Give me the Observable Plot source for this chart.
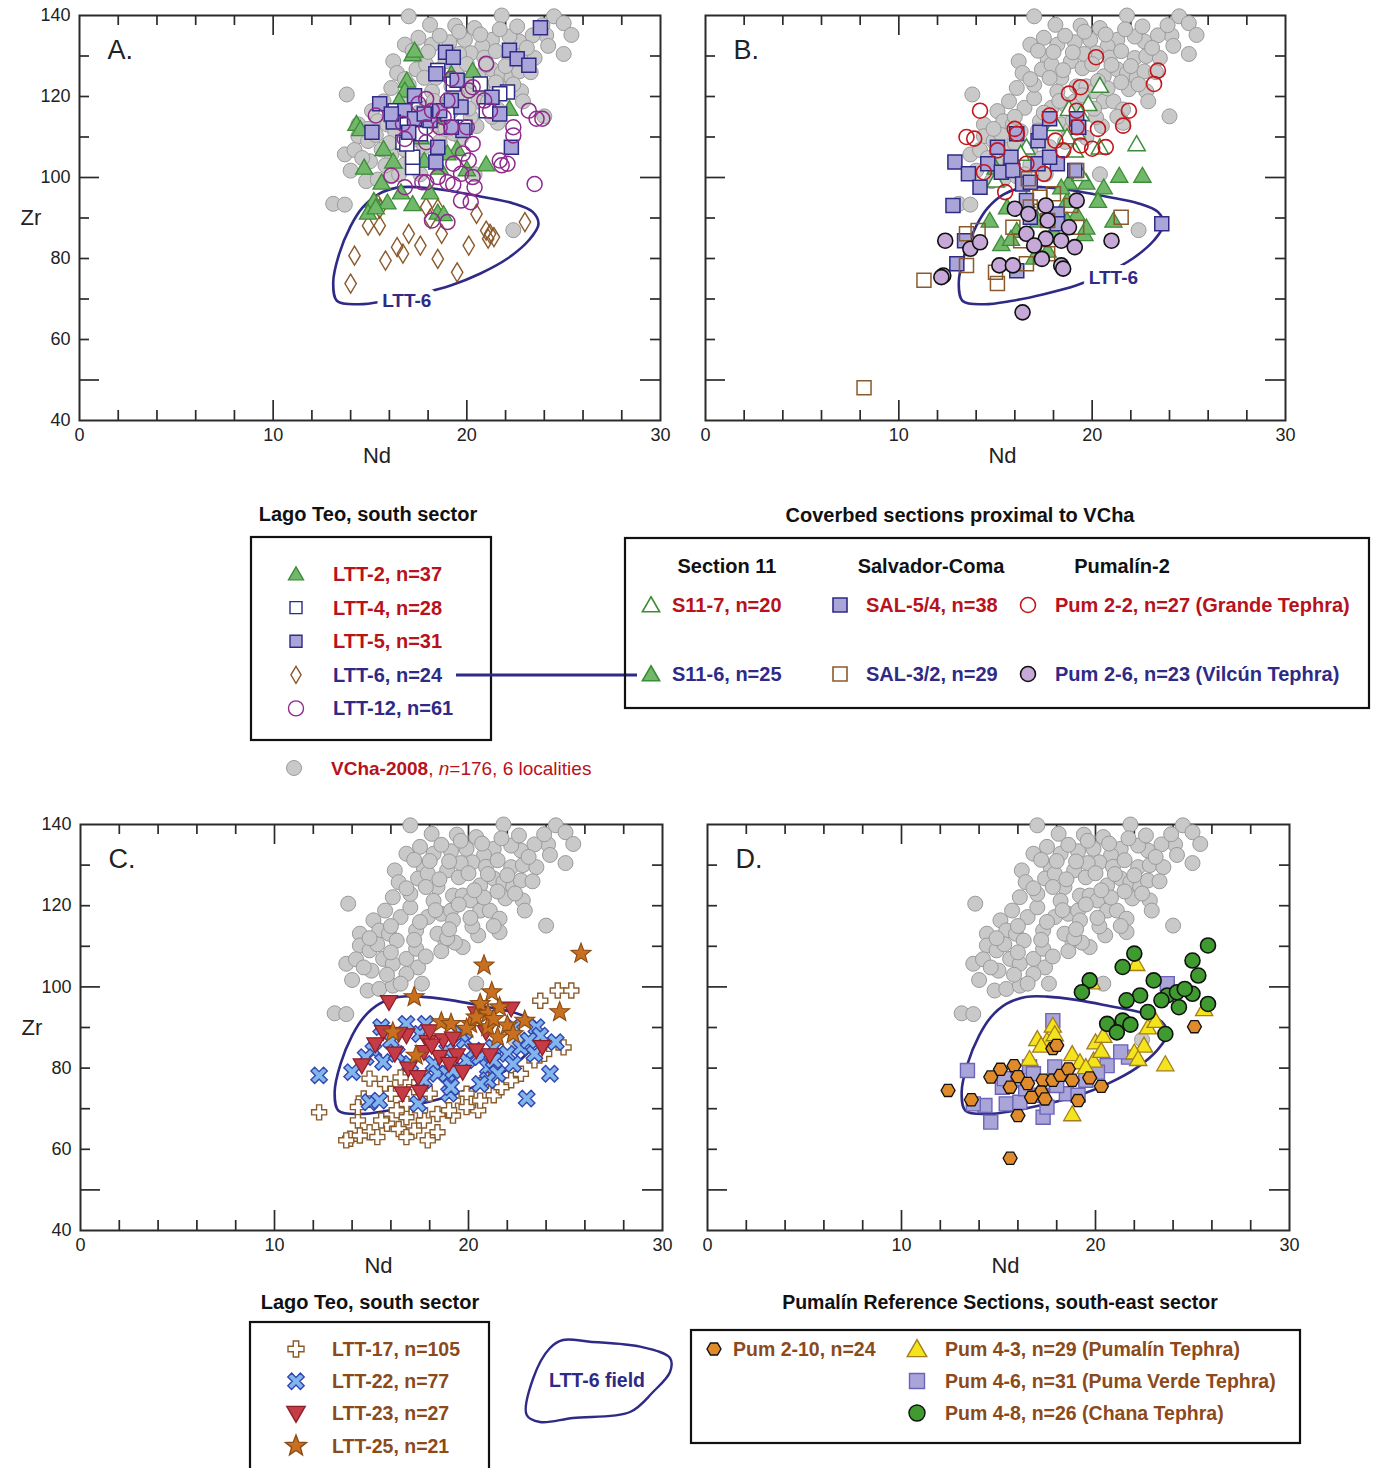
<!DOCTYPE html>
<html>
<head>
<meta charset="utf-8">
<script src="https://cdn.jsdelivr.net/npm/d3@7"></script>
<script src="https://cdn.jsdelivr.net/npm/@observablehq/plot@0.6"></script>
<style>
  body { margin: 0; background: #fff; }
  #page { position: relative; width: 1375px; height: 1468px; overflow: hidden; background: #fff;
          font-family: "Liberation Sans", Arial, Helvetica, sans-serif; }
</style>
</head>
<body>
<div id="page"></div>
<script>
// ---------- axis ticks and labels ----------
const xTickLabels = [0, 10, 20, 30];
const yTickLabels = [40, 60, 80, 100, 120, 140];
const xMinorTicks = [2, 4, 6, 8, 12, 14, 16, 18, 22, 24, 26, 28];
const xMajorTicks = [10, 20];
const yMinorTicks = [60, 70, 80, 90, 110, 120, 130];
const yMajorTicks = [50, 100];

// ---------- data: [Nd, Zr] in ppm ----------
const vcha2008 = [
  [17.0,139.8],[18.1,137.7],[19.4,137.5],[20.4,136.9],[21.8,140.0],[24.5,139.8],[25.0,138.1],[25.4,135.2],
  [25.0,130.5],[24.1,135.1],[23.4,135.1],[22.7,133.6],[22.2,134.8],[21.3,134.0],[20.8,132.4],[19.9,134.0],
  [19.1,133.4],[16.8,132.8],[18.2,132.8],[17.7,129.2],[16.2,128.7],[16.4,125.8],[17.4,126.7],[17.9,127.9],
  [18.4,124.6],[18.9,128.7],[19.5,127.0],[20.2,130.7],[20.6,125.0],[21.3,126.7],[21.8,125.8],[22.3,124.6],
  [22.2,129.5],[22.7,126.2],[22.8,121.3],[22.9,118.8],[24.0,115.1],[19.2,122.5],[19.7,122.5],[20.1,121.3],
  [20.6,118.8],[21.1,118.8],[21.6,116.8],[21.6,113.5],[20.5,112.7],[19.7,109.8],[18.8,111.4],[18.4,113.1],
  [17.9,117.2],[18.6,118.0],[19.1,118.8],[19.2,116.4],[17.3,113.9],[16.5,117.2],[17.0,119.6],[15.7,118.8],
  [16.1,122.1],[13.8,120.5],[15.1,116.4],[15.4,113.9],[14.4,113.1],[15.9,113.1],[16.3,111.4],[14.4,110.2],
  [14.9,109.0],[15.6,106.9],[16.1,105.7],[16.8,106.9],[17.3,109.4],[17.4,104.8],[16.8,103.2],[13.7,105.7],
  [14.0,101.7],[14.8,99.1],[15.4,99.5],[16.1,100.3],[17.6,100.8],[16.5,100.8],[13.1,93.5],[13.7,93.3],
  [20.4,100.8],[22.4,87.0],[18.0,131.0],[19.6,130.5],[20.9,129.6],[21.5,131.2],[22.8,130.0],[23.5,129.5],
  [17.0,122.9],[18.2,121.2],[19.5,120.3],[20.8,122.0],[21.9,121.8],[15.3,110.5],[16.0,108.5],[17.8,107.5],
  [18.6,108.8],[19.3,110.9],[20.2,114.9],[21.3,115.0],[14.2,106.8],[15.0,104.0],[18.9,112.0],
  [18.6,135.0],[19.6,136.0],[20.7,135.3],[21.7,136.6],[22.6,137.3],[23.1,132.0],[24.2,132.5],[17.5,134.5],
  [17.2,131.3],[18.5,126.5],[20.0,128.0],[21.0,127.8],[22.0,127.5],[23.3,126.0],[16.8,124.3],[17.8,124.6],
  [20.3,123.8],[21.5,123.5],[22.4,123.0],[17.5,116.0],[18.3,118.9],[20.1,117.0],[19.0,114.2],[16.0,115.0],
  [14.9,112.0],[17.2,111.6],[15.8,103.0],[14.6,104.8],[19.0,130.9],[23.9,137.6]
];

// LTT-6 compositional field outline
const ltt6Field = [
  [13.3,69.5],[13.1,74.0],[13.4,81.0],[14.0,88.0],[14.6,92.5],[15.4,95.8],[16.4,97.5],[17.5,97.6],
  [19.0,96.8],[20.7,95.3],[22.4,93.6],[23.4,91.5],[23.7,88.5],[23.2,84.5],[22.1,80.0],[20.7,76.3],
  [19.2,73.4],[17.5,71.2],[15.8,69.5],[14.4,68.7]
];
const fieldLabelA = {nd: 16.9, zr: 69.6, text: "LTT-6"};
const fieldLabelB = {nd: 21.1, zr: 75.1, text: "LTT-6"};

// Panel A: Lago Teo, south sector
const ltt2 = [[17.2,130.5],[17.3,131.4],[16.9,124.0],[16.8,121.5],[14.3,113.3],[14.5,112.0],[20.3,126.4],[15.7,107.1],
  [14.7,102.5],[19.5,107.1],[21.0,103.3],[22.2,117.0],[15.6,98.8],[15.2,94.3],[15.9,93.9],[17.2,93.5],[14.9,91.4],
  [18.5,91.4],[18.1,96.4],[16.6,96.4],[20.0,102.1],[17.8,104.2],[18.6,102.5],[18.8,91.0],[15.3,92.7],[19.2,125.6],
  [17.6,110.0],[16.5,119.0],[18.3,115.0],[19.0,106.0],[16.2,104.0]];
const ltt4 = [[20.7,123.1],[22.1,121.1],[21.0,116.5],[16.7,108.7],[17.2,102.5],[17.2,105.0],[16.9,108.3],[16.3,116.5],
  [19.9,112.4],[18.5,126.4],[19.3,123.1],[17.6,110.8],[21.7,120.7],[19.0,115.7]];
const ltt5 = [[23.8,137.0],[18.9,130.9],[19.3,129.7],[22.2,131.4],[22.6,129.3],[23.2,127.7],[18.4,125.6],[19.5,124.0],
  [17.3,120.2],[15.5,118.2],[16.8,116.5],[21.3,119.8],[21.7,115.7],[15.1,111.2],[16.2,113.7],[17.3,114.5],[18.1,114.1],
  [19.7,117.4],[19.8,111.6],[18.5,107.5],[18.4,103.8],[22.3,107.5],[17.0,111.2],[16.1,115.7],[18.6,116.5],[19.2,119.0],
  [17.8,115.7],[19.2,112.4]];
const ltt6 = [[14.0,73.8],[14.2,80.7],[14.9,88.1],[15.5,88.1],[15.5,92.3],[15.8,79.5],[16.4,82.8],[16.7,81.2],[17.0,86.1],
  [17.6,83.2],[18.5,79.9],[18.1,89.8],[18.7,86.1],[19.5,76.6],[20.1,83.2],[20.5,91.0],[21.0,86.9],[21.2,86.1],[21.4,85.3],
  [21.1,84.9],[23.0,89.0],[18.5,92.3],[15.4,93.5],[17.9,92.7]];
const ltt12 = [[21.0,128.1],[20.3,122.3],[19.2,124.4],[20.1,121.5],[15.3,115.3],[16.7,113.3],[17.5,118.2],[17.9,119.4],
  [18.2,116.5],[18.8,114.9],[19.0,119.0],[19.2,112.4],[20.0,112.4],[21.2,116.5],[23.2,116.5],[23.6,114.5],[23.9,114.5],
  [22.4,112.4],[22.4,110.4],[20.3,108.3],[17.9,108.7],[16.8,109.5],[19.8,105.9],[20.1,104.2],[21.7,104.2],[22.1,103.4],
  [19.3,103.4],[19.7,100.9],[16.1,100.5],[16.8,97.6],[17.9,98.8],[18.5,100.1],[19.0,98.8],[20.3,100.1],[20.4,97.6],
  [19.7,94.3],[20.2,93.9],[23.5,98.4],[18.2,89.4],[19.0,89.0],[17.9,112.4],[18.6,112.4],[19.3,98.3],[17.7,98.8],
  [20.9,119.0],[21.8,103.0]];

// Panel B: coverbed sections proximal to VCha
const s11_7 = [[20.4,122.7],[19.8,118.2],[18.8,117.0],[22.3,108.3],[20.4,107.5],[19.1,106.7],[19.4,100.9],[15.0,99.3],
  [19.2,111.2],[18.1,113.3],[16.6,107.5],[18.7,110.0],[16.3,105.9],[19.4,115.7]];
const s11_6 = [[21.4,100.5],[22.6,100.5],[20.6,97.6],[19.7,98.8],[18.8,98.8],[20.3,94.3],[21.1,89.4],[19.2,91.0],[19.6,86.1],
  [15.3,83.6],[16.1,86.9],[15.8,84.9],[17.0,80.3],[17.7,82.0],[18.0,86.9],[15.6,92.7],[16.6,94.3],[18.7,94.3],[15.0,102.5],
  [17.2,89.4],[18.7,89.4],[14.7,89.4],[19.7,87.7],[18.4,97.6]];
const sal54 = [[12.9,103.8],[12.8,93.1],[13.6,100.9],[14.2,97.6],[14.6,103.4],[15.3,101.3],[15.8,105.0],[16.1,110.8],
  [17.2,109.1],[17.3,111.2],[17.8,114.5],[19.2,114.5],[19.3,112.4],[18.2,103.4],[17.2,103.4],[15.9,101.7],[16.4,98.4],
  [19.1,101.7],[16.6,94.3],[16.8,90.2],[18.2,91.0],[18.2,88.6],[13.4,84.4],[13.0,78.7],[16.1,77.0],[23.6,88.6],[15.1,107.5],
  [16.8,98.8],[17.8,105.0]];
const sal32 = [[11.3,74.6],[13.5,86.1],[14.1,86.9],[13.5,78.3],[15.1,73.8],[15.0,76.6],[16.6,78.7],[19.2,101.7],[21.5,90.2],
  [16.7,99.7],[17.3,95.1],[16.8,92.7],[15.9,87.7],[17.7,89.4],[18.9,93.1],[19.2,87.7],[18.0,96.0],[17.7,81.2],[16.3,84.4],
  [8.2,48.1]];
const pum2_2 = [[20.2,129.7],[23.4,126.4],[23.2,123.1],[18.8,120.7],[19.4,122.3],[14.2,116.5],[19.2,116.5],[17.8,115.3],
  [21.9,116.5],[21.6,112.8],[20.3,112.0],[16.0,112.0],[16.1,110.8],[13.5,110.0],[13.9,109.6],[18.1,109.1],[18.5,106.7],
  [19.4,107.9],[20.0,107.1],[20.7,107.5],[15.1,106.7],[16.6,103.4],[14.4,101.3],[17.5,100.9],[15.5,96.4],[19.2,112.4]];
const pum2_6 = [[19.2,94.3],[16.0,92.3],[17.6,93.1],[17.7,89.4],[18.8,87.7],[16.6,86.1],[17.6,84.9],[17.0,83.2],[18.4,84.4],
  [19.1,82.8],[21.0,84.4],[12.4,84.4],[13.7,82.4],[14.2,84.0],[17.4,79.9],[15.2,78.3],[15.9,78.3],[18.4,78.3],[18.5,77.5],
  [12.3,75.8],[12.2,75.4],[16.4,66.7],[16.7,91.0]];

// Panel C: Lago Teo, south sector (upper units)
const ltt17 = [[12.3,69.1],[14.3,67.1],[13.9,62.6],[14.9,64.2],[15.3,63.0],[15.8,66.3],[16.4,65.0],[16.8,67.9],[17.2,64.6],
  [17.7,67.1],[18.4,64.2],[18.4,68.7],[19.2,68.3],[20.5,69.6],[21.3,73.3],[21.7,75.3],[22.2,77.0],[23.4,81.9],[23.7,96.6],
  [24.6,99.1],[25.3,99.1],[24.9,85.1],[14.9,77.4],[15.7,76.1],[16.0,73.7],[16.8,71.2],[14.6,72.5],[16.3,69.6],[17.5,69.6],
  [18.0,73.7],[19.9,73.7],[19.9,70.4],[20.9,77.0],[19.2,72.0],[22.7,78.6],[15.5,67.1],[16.8,63.0],[14.4,63.4],[13.7,62.2],
  [17.9,62.2],[23.9,83.5],[14.3,70.4],[20.6,72.0],[17.2,75.3],[16.5,77.7],[19.0,69.6]];
const ltt22 = [[12.3,78.2],[14.0,79.0],[15.5,90.1],[16.8,90.9],[17.8,90.9],[15.1,84.3],[15.6,81.5],[14.9,71.6],[15.4,72.0],
  [17.4,71.2],[19.0,73.7],[23.0,72.5],[24.2,78.6],[24.5,86.4],[23.5,90.1],[23.7,88.0],[18.2,81.0],[18.4,78.6],[18.9,78.6],
  [19.1,75.3],[19.2,79.4],[19.9,81.9],[20.3,84.3],[20.6,82.7],[21.0,80.2],[21.5,78.6],[21.3,85.1],[22.0,83.5],[22.3,81.0],
  [22.7,85.1],[23.1,86.8],[19.8,86.8],[21.0,77.0],[20.6,76.1],[17.7,77.0],[17.0,81.0],[16.3,83.5],[16.0,86.8],[17.5,88.4],
  [18.9,84.3],[19.6,88.4],[23.4,83.5],[14.7,82.7],[21.3,81.9],[22.3,90.1]];
const ltt23 = [[15.9,96.2],[22.2,94.6],[20.4,93.4],[15.6,88.8],[16.8,88.0],[17.9,86.4],[18.7,86.8],[19.2,87.2],[16.2,83.5],
  [14.5,80.6],[17.7,83.9],[18.5,82.7],[19.4,83.1],[21.1,83.1],[16.9,79.8],[17.4,77.7],[19.7,79.0],[16.6,73.7],[17.5,74.1],
  [23.8,85.1],[18.1,85.5],[20.4,84.3],[16.4,88.4],[18.0,89.0],[20.9,88.8],[19.0,81.0],[15.2,85.8]];
const ltt25 = [[25.8,108.2],[20.8,105.3],[21.2,98.7],[17.2,97.5],[24.7,93.8],[20.6,95.8],[21.0,93.4],[21.6,95.0],[18.6,91.3],
  [19.1,90.9],[20.1,90.9],[21.0,90.1],[22.0,90.5],[22.9,91.7],[21.5,87.6],[16.1,88.8],[17.3,83.1],[22.3,88.4],[20.4,92.5],
  [21.3,92.1],[19.9,89.7]];

// Panel D: Pumalín reference sections, south-east sector
const pum2_10 = [[25.1,90.2],[17.8,84.8],[18.0,85.6],[15.1,79.7],[15.8,80.6],[14.6,77.8],[16.0,77.9],[15.6,75.3],[17.3,77.0],
  [17.8,77.0],[18.2,78.2],[18.6,79.8],[18.8,77.0],[19.7,77.6],[20.3,75.5],[17.2,74.1],[16.7,72.8],[17.4,72.4],[19.1,72.0],
  [13.6,72.2],[12.4,74.5],[16.0,68.3],[15.6,57.8],[16.5,76.2]];
const pum4_3 = [[22.1,105.7],[25.6,94.6],[17.8,90.5],[17.0,87.2],[17.5,86.8],[17.2,85.6],[18.8,83.5],[20.0,86.4],[20.4,88.0],
  [22.7,90.1],[23.1,91.7],[22.5,85.6],[22.0,83.9],[22.2,82.3],[23.6,81.0],[16.6,82.3],[19.2,81.5],[19.9,81.9],[19.5,80.3],
  [18.8,68.7],[20.3,84.3],[17.9,88.4],[19.8,101.2]];
const pum4_6 = [[23.7,100.8],[17.8,91.7],[21.7,82.7],[20.6,80.6],[20.1,79.0],[13.4,79.4],[14.3,70.8],[14.6,66.7],[15.2,75.3],
  [15.4,71.2],[16.1,71.6],[16.4,74.9],[16.6,80.3],[17.3,67.9],[17.5,70.4],[17.9,80.3],[18.5,73.7],[19.1,73.3],[18.0,75.7],
  [16.8,78.6],[15.8,77.4],[15.3,77.4],[19.5,77.0],[17.2,73.3],[13.7,71.2],[21.3,84.0]];
const pum4_8 = [[25.8,110.2],[22.0,108.2],[21.4,104.9],[25.0,106.5],[25.3,102.8],[23.0,101.6],[19.7,101.6],[19.3,98.7],
  [22.3,97.9],[21.6,96.7],[23.7,97.9],[24.2,98.7],[25.0,98.3],[25.8,95.8],[23.4,96.7],[24.3,95.0],[22.7,93.8],[20.6,90.9],
  [21.4,91.7],[21.8,90.7],[21.1,88.8],[23.6,88.4],[24.6,99.5]];

// ---------- styling ----------
const FONT = '"Liberation Sans", Arial, Helvetica, sans-serif';
const INK = "#222";
const col = {
  grayFill: "#c9c9c9", grayStroke: "#9a9a9a",
  greenFill: "#72b86a", greenStroke: "#3c8d37",
  navy: "#2e2a86", lavender: "#aaa5d9", brown: "#8b5a2b", purple: "#8e2a8c",
  red: "#c4161c", pinkLav: "#c6a9d8",
  xFill: "#80b6ec", xStroke: "#3346b0",
  triRed: "#c63c46", triRedStroke: "#8e1c24",
  star: "#c8701f", starStroke: "#8a4a12",
  hex: "#e08b2b", yellow: "#f3e41c", yellowStroke: "#a37d1e",
  lavStroke2: "#6c64b8", green2: "#3f9a30",
  textRed: "#b8121b", textBlue: "#2e2a86", textBrown: "#8b4a1c"
};

// ---------- marker shapes (unit polygons scaled by the dot radius) ----------
function polySymbol(pts) {
  return {
    draw(ctx, size) {
      const s = Math.sqrt(size / Math.PI);
      pts.forEach(([a, b], i) => i ? ctx.lineTo(a * s, b * s) : ctx.moveTo(a * s, b * s));
      ctx.closePath();
    }
  };
}
const plusPts = (w) => [[-w,-1],[w,-1],[w,-w],[1,-w],[1,w],[w,w],[w,1],[-w,1],[-w,w],[-1,w],[-1,-w],[-w,-w]];
const symSquare = polySymbol([[-1,-1],[1,-1],[1,1],[-1,1]]);
const symTriUp = polySymbol([[0,-1.1],[1.15,0.9],[-1.15,0.9]]);
const symTriDown = polySymbol([[0,1.1],[1.15,-0.9],[-1.15,-0.9]]);
const symDiamond = polySymbol([[0,-1],[0.6,0],[0,1],[-0.6,0]]);
const symPlus = polySymbol(plusPts(0.34));
const symX = polySymbol(plusPts(0.3).map(([a, b]) => [(a - b) * Math.SQRT1_2 * 1.05, (a + b) * Math.SQRT1_2 * 1.05]));
const symStar = polySymbol(d3.range(10).map(i => {
  const a = -Math.PI / 2 + i * Math.PI / 5, r = i % 2 ? 0.42 : 1;
  return [r * Math.cos(a), r * Math.sin(a)];
}));
const symHex = polySymbol(d3.range(6).map(i => [Math.cos(i * Math.PI / 3), Math.sin(i * Math.PI / 3)]));

const series = (data, symbol, r, fill, stroke, strokeWidth = 1.3) =>
  Plot.dot(data, {x: d => d[0], y: d => d[1], symbol, r, fill, stroke, strokeWidth});

// ---------- panel builder ----------
const page = document.getElementById("page");

function frameTicks(w, h) {
  const dx = 30 / w, dy = 100 / h;
  const xs = [...xMinorTicks.map(v => ({v, l: 10})), ...xMajorTicks.map(v => ({v, l: 20}))];
  const ys = [...yMinorTicks.map(v => ({v, l: 10})), ...yMajorTicks.map(v => ({v, l: 20}))];
  const st = {stroke: "#2b2b2b", strokeWidth: 1.7};
  return [
    Plot.ruleX(xs, {x: "v", y1: 40, y2: d => 40 + d.l * dy, ...st}),
    Plot.ruleX(xs, {x: "v", y1: 140, y2: d => 140 - d.l * dy, ...st}),
    Plot.ruleY(ys, {y: "v", x1: 0, x2: d => d.l * dx, ...st}),
    Plot.ruleY(ys, {y: "v", x1: 30, x2: d => 30 - d.l * dx, ...st})
  ];
}

function drawPanel(cfg) {
  const w = cfg.width - cfg.ml - cfg.mr, h = cfg.height - cfg.mt - cfg.mb;
  const marks = [
    Plot.frame({stroke: "#2b2b2b", strokeWidth: 2}),
    ...frameTicks(w, h),
    Plot.text(xTickLabels, {x: d => d, text: d => String(d), frameAnchor: "bottom", lineAnchor: "middle", dy: 15, fontSize: 18, fill: INK}),
    Plot.text(["Nd"], {text: d => d, frameAnchor: "bottom", lineAnchor: "middle", dy: 35, dx: 7, fontSize: 22, fill: INK}),
    Plot.text([cfg.letter], {text: d => d, frameAnchor: "top-left", lineAnchor: "middle", dx: 28, dy: 35, textAnchor: "start", fontSize: 27, fill: INK})
  ];
  if (cfg.yAxis) {
    marks.push(
      Plot.text(yTickLabels, {y: d => d, text: d => String(d), frameAnchor: "left", dx: -9, textAnchor: "end", fontSize: 18, fill: INK}),
      Plot.text(["Zr"], {text: d => d, frameAnchor: "left", dx: -59, fontSize: 22, fill: INK})
    );
  }
  marks.push(series(vcha2008, "circle", 7.5, col.grayFill, col.grayStroke, 1));
  marks.push(Plot.line(ltt6Field, {x: d => d[0], y: d => d[1], curve: "catmull-rom-closed", stroke: col.navy, strokeWidth: 2.6}));
  marks.push(...cfg.series);
  if (cfg.fieldLabel) {
    marks.push(Plot.text([cfg.fieldLabel], {
      x: "nd", y: "zr", text: "text", fontSize: 19, fontWeight: "bold", fill: col.navy,
      stroke: "white", strokeWidth: 12
    }));
  }
  const svg = Plot.plot({
    width: cfg.width, height: cfg.height,
    marginLeft: cfg.ml, marginRight: cfg.mr, marginTop: cfg.mt, marginBottom: cfg.mb,
    x: {domain: [0, 30], axis: null},
    y: {domain: [40, 140], axis: null},
    style: {fontFamily: FONT, fontSize: "18px", background: "transparent", overflow: "visible"},
    marks
  });
  svg.style.position = "absolute";
  svg.style.left = cfg.left + "px";
  svg.style.top = cfg.top + "px";
  page.append(svg);
}

drawPanel({
  letter: "A.", left: 0, top: 0, width: 687, height: 470, ml: 79, mr: 27, mt: 15, mb: 50, yAxis: true,
  fieldLabel: fieldLabelA,
  series: [
    series(ltt6, symDiamond, 9.5, "none", col.brown, 1.4),
    series(ltt2, symTriUp, 7.5, col.greenFill, col.greenStroke),
    series(ltt4, symSquare, 7, "white", col.navy, 1.5),
    series(ltt5, symSquare, 7, col.lavender, col.navy, 1.5),
    series(ltt12, "circle", 7.5, "none", col.purple, 1.5)
  ]
});

drawPanel({
  letter: "B.", left: 687, top: 0, width: 688, height: 470, ml: 18, mr: 90, mt: 15, mb: 50, yAxis: false,
  fieldLabel: fieldLabelB,
  series: [
    series(s11_6, symTriUp, 7.5, col.greenFill, col.greenStroke),
    series(s11_7, symTriUp, 7.5, "white", col.greenStroke, 1.5),
    series(sal54, symSquare, 7, col.lavender, col.navy, 1.5),
    series(sal32, symSquare, 7, "none", col.brown, 1.5),
    series(pum2_2, "circle", 7.5, "none", col.red, 1.6),
    series(pum2_6, "circle", 7.5, col.pinkLav, "#111", 1.6)
  ]
});

drawPanel({
  letter: "C.", left: 0, top: 809, width: 687, height: 471, ml: 80, mr: 25, mt: 15, mb: 50, yAxis: true,
  series: [
    series(ltt17, symPlus, 7.5, "white", col.brown, 1.4),
    series(ltt22, symX, 8.5, col.xFill, col.xStroke, 1.4),
    series(ltt23, symTriDown, 7.5, col.triRed, col.triRedStroke, 1.2),
    series(ltt25, symStar, 10.5, col.star, col.starStroke, 1.1)
  ]
});

drawPanel({
  letter: "D.", left: 687, top: 809, width: 688, height: 471, ml: 20, mr: 86, mt: 15, mb: 50, yAxis: false,
  series: [
    series(pum4_6, symSquare, 7, col.lavender, col.lavStroke2, 1.4),
    series(pum4_3, symTriUp, 7.5, col.yellow, col.yellowStroke, 1.3),
    series(pum2_10, symHex, 7, col.hex, "#111", 1.3),
    series(pum4_8, "circle", 7.5, col.green2, "#111", 1.6)
  ]
});

// ---------- legends ----------
const legendTopLeft = [
  {text: "LTT-2, n=37", color: col.textRed, sym: symTriUp, r: 6.5, fill: col.greenFill, stroke: col.greenStroke},
  {text: "LTT-4, n=28", color: col.textRed, sym: symSquare, r: 6, fill: "white", stroke: col.navy},
  {text: "LTT-5, n=31", color: col.textRed, sym: symSquare, r: 6, fill: col.lavender, stroke: col.navy},
  {text: "LTT-6, n=24", color: col.textBlue, sym: symDiamond, r: 8.5, fill: "white", stroke: col.brown},
  {text: "LTT-12, n=61", color: col.textBlue, sym: d3.symbolCircle, r: 7.5, fill: "none", stroke: col.purple}
];
const legendCoverbedHeads = ["Section 11", "Salvador-Coma", "Pumalín-2"];
const legendCoverbed = [
  [
    {text: "S11-7, n=20", color: col.textRed, sym: symTriUp, r: 7.5, fill: "white", stroke: col.greenStroke},
    {text: "SAL-5/4, n=38", color: col.textRed, sym: symSquare, r: 7, fill: col.lavender, stroke: col.navy},
    {text: "Pum 2-2, n=27 (Grande Tephra)", color: col.textRed, sym: d3.symbolCircle, r: 7.5, fill: "none", stroke: col.red}
  ],
  [
    {text: "S11-6, n=25", color: col.textBlue, sym: symTriUp, r: 7.5, fill: col.greenFill, stroke: col.greenStroke},
    {text: "SAL-3/2, n=29", color: col.textBlue, sym: symSquare, r: 7, fill: "white", stroke: col.brown},
    {text: "Pum 2-6, n=23 (Vilcún Tephra)", color: col.textBlue, sym: d3.symbolCircle, r: 7.5, fill: col.pinkLav, stroke: "#111"}
  ]
];
const legendBottomLeft = [
  {text: "LTT-17, n=105", sym: symPlus, r: 8, fill: "white", stroke: col.brown},
  {text: "LTT-22, n=77", sym: symX, r: 8.5, fill: col.xFill, stroke: col.xStroke},
  {text: "LTT-23, n=27", sym: symTriDown, r: 8, fill: col.triRed, stroke: col.triRedStroke},
  {text: "LTT-25, n=21", sym: symStar, r: 11, fill: col.star, stroke: col.starStroke}
];
const legendPumalin = [
  {text: "Pum 2-10, n=24", sym: symHex, r: 7, fill: col.hex, stroke: "#111"},
  {text: "Pum 4-3, n=29 (Pumalín Tephra)", sym: symTriUp, r: 8.5, fill: col.yellow, stroke: col.yellowStroke},
  {text: "Pum 4-6, n=31 (Puma Verde Tephra)", sym: symSquare, r: 7.5, fill: col.lavender, stroke: col.lavStroke2},
  {text: "Pum 4-8, n=26 (Chana Tephra)", sym: d3.symbolCircle, r: 8, fill: col.green2, stroke: "#111"}
];
const fieldGlyph = [[526.7,1415],[533.3,1378],[550,1348],[563,1340],[590,1341.7],[640,1346.7],[670,1358],
  [670,1372],[653,1392],[630,1412],[573,1418],[540,1422]];

const lg = d3.create("svg")
  .attr("width", 1375).attr("height", 1468)
  .style("position", "absolute").style("left", "0px").style("top", "0px")
  .style("font-family", FONT);

function drawSym(x, y, e, sw = 1.4) {
  lg.append("path")
    .attr("transform", `translate(${x},${y})`)
    .attr("d", d3.symbol(e.sym, Math.PI * e.r * e.r)())
    .attr("fill", e.fill).attr("stroke", e.stroke).attr("stroke-width", sw);
}
function drawText(x, y, text, color, size = 20, weight = "bold", anchor = "start") {
  return lg.append("text").attr("x", x).attr("y", y).attr("dy", "0.35em")
    .attr("fill", color).attr("font-size", size).attr("font-weight", weight)
    .attr("text-anchor", anchor).text(text);
}
function box(x, y, w, h) {
  lg.append("rect").attr("x", x).attr("y", y).attr("width", w).attr("height", h)
    .attr("fill", "none").attr("stroke", "#111").attr("stroke-width", 2.2);
}

// Top left legend: Lago Teo, south sector
drawText(368, 514, "Lago Teo, south sector", "#111", 20, "bold", "middle");
box(251, 537, 240, 203);
legendTopLeft.forEach((e, i) => {
  const y = 574 + i * 33.6;
  drawSym(296, y, e);
  drawText(333, y, e.text, e.color);
});
// VCha-2008 reference set
drawSym(294, 768, {sym: d3.symbolCircle, r: 7.5, fill: col.grayFill, stroke: col.grayStroke}, 1);
{
  const t = drawText(331, 768, "", col.textRed, 19, "normal");
  t.append("tspan").attr("font-weight", "bold").text("VCha-2008");
  t.append("tspan").text(", ");
  t.append("tspan").attr("font-style", "italic").text("n");
  t.append("tspan").text("=176, 6 localities");
}
// connector between LTT-6 and S11-6
lg.append("line").attr("x1", 456).attr("x2", 637).attr("y1", 675).attr("y2", 675)
  .attr("stroke", col.navy).attr("stroke-width", 3.2);

// Top right legend: coverbed sections
drawText(960, 515, "Coverbed sections proximal to VCha", "#111", 20, "bold", "middle");
box(625, 538, 744, 170);
const headX = [727, 931, 1122];
legendCoverbedHeads.forEach((h, i) => drawText(headX[i], 566, h, "#111", 20, "bold", "middle"));
const symXs = [651, 840, 1028], txtXs = [672, 866, 1055], rowYs = [605, 674];
legendCoverbed.forEach((row, r) => row.forEach((e, c) => {
  drawSym(symXs[c], rowYs[r], e, 1.6);
  drawText(txtXs[c], rowYs[r], e.text, e.color);
}));

// Bottom left legend: Lago Teo, south sector
drawText(370, 1302, "Lago Teo, south sector", "#111", 20, "bold", "middle");
box(250, 1322, 239, 200);
legendBottomLeft.forEach((e, i) => {
  const y = 1349 + i * 32.3;
  drawSym(296, y, e);
  drawText(332, y, e.text, col.textBrown, 19.5);
});

// LTT-6 field glyph
lg.append("path")
  .attr("d", d3.line().curve(d3.curveCatmullRomClosed)(fieldGlyph))
  .attr("fill", "none").attr("stroke", col.navy).attr("stroke-width", 2.4);
drawText(597, 1380, "LTT-6 field", col.navy, 19.5, "bold", "middle")
  .attr("stroke", "white").attr("stroke-width", 8).attr("paint-order", "stroke");

// Bottom right legend: Pumalín reference sections
drawText(1000, 1302, "Pumalín Reference Sections, south-east sector", "#111", 19.5, "bold", "middle");
box(691, 1330, 609, 113);
const pumPos = [[714, 733, 1349], [917, 945, 1349], [917, 945, 1381], [917, 945, 1413]];
legendPumalin.forEach((e, i) => {
  const [sx, tx, y] = pumPos[i];
  drawSym(sx, y, e);
  drawText(tx, y, e.text, col.textBrown, 19.5);
});

page.prepend(lg.node());
</script>
</body>
</html>
